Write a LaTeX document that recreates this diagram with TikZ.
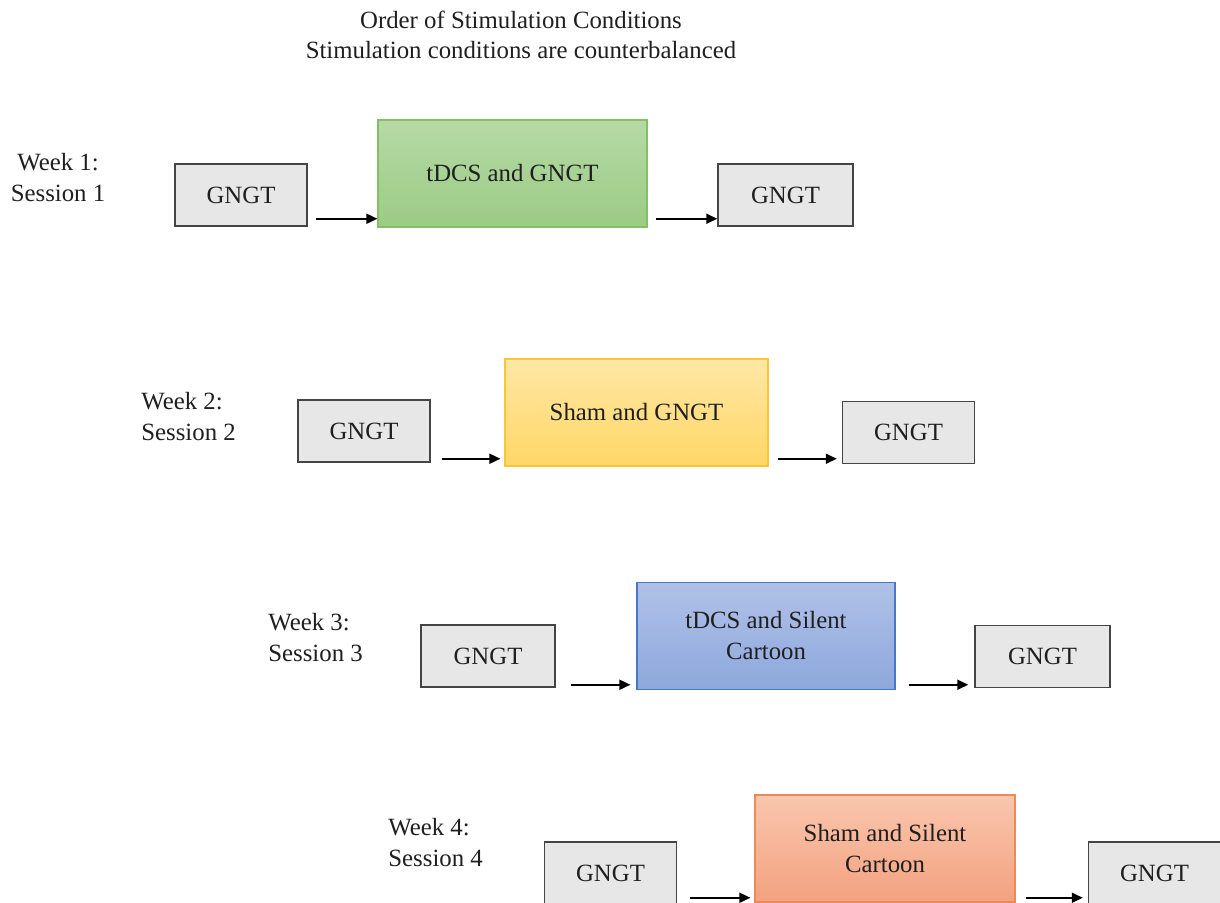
\documentclass[tikz,border=0pt]{standalone}
\usepackage{fontspec}
\setmainfont{Liberation Serif}
\usetikzlibrary{arrows.meta,calc}
\definecolor{gfill}{HTML}{E7E7E7}
\definecolor{gdraw}{HTML}{454545}
\definecolor{grD}{HTML}{82C066}
\definecolor{grT}{HTML}{B6DAA6}
\definecolor{grB}{HTML}{9BCB84}
\definecolor{yeD}{HTML}{FFC533}
\definecolor{yeT}{HTML}{FFE7A6}
\definecolor{yeB}{HTML}{FFD766}
\definecolor{blD}{HTML}{4A76C6}
\definecolor{blT}{HTML}{AFC1E8}
\definecolor{blB}{HTML}{8EA8DC}
\definecolor{orD}{HTML}{EE8A55}
\definecolor{orT}{HTML}{F9C6AE}
\definecolor{orB}{HTML}{F3A27F}
\tikzset{
  txt/.style={font=\fontsize{12.4}{15.5}\selectfont, text=black!88},
  gbox/.style={txt, draw=gdraw, line width=0.75pt, fill=gfill, minimum width=66pt, minimum height=31pt, inner sep=0pt},
  cbox/.style={txt, line width=0.6pt, minimum width=#1, minimum height=53.5pt, inner sep=0pt, align=center},
  greenbox/.style={cbox=134.5pt, draw=grD, top color=grT, bottom color=grB},
  yellowbox/.style={cbox=131.5pt, draw=yeD, top color=yeT, bottom color=yeB},
  bluebox/.style={cbox=129pt, draw=blD, top color=blT, bottom color=blB},
  orangebox/.style={cbox=130pt, draw=orD, top color=orT, bottom color=orB},
  lab/.style={txt, inner sep=0pt},
  arr/.style={line width=0.9pt, -{Triangle[length=5.5pt,width=5pt]}}
}
\begin{document}
\begin{tikzpicture}[x=0.5pt,y=-0.5pt]
\useasboundingbox (0,0) rectangle (1220,903);
\clip (0,0) rectangle (1220,903);
% title
\node[lab] (title1) at (521,20) {Order of Stimulation Conditions};
\node[lab] (title2) at (521,50) {Stimulation conditions are counterbalanced};
% row 1
\node[lab, align=center] (w1) at (58,178) {Week 1:\\Session 1};
\node[gbox] (g1) at (241,195) {GNGT};
\node[greenbox] (t1) at (512.5,173.5) {tDCS and GNGT};
\node[gbox, minimum width=67.5pt] (r1) at (785.5,195) {GNGT};
\draw[arr] ([shift={(8,-8)}]g1.south east) coordinate (a1) -- (a1 -| t1.west);
\draw[arr] ($(a1 -| t1.east)+(8,0)$) -- (a1 -| r1.west);
% row 2
\node[lab, align=left, anchor=west] (w2) at (141,417) {Week 2:\\Session 2};
\node[gbox] (g2) at (364,431) {GNGT};
\node[yellowbox] (y2) at (636.5,412.5) {Sham and GNGT};
\node[gbox] (r2) at (908.5,432.5) {GNGT};
\draw[arr] ([shift={(11,-4)}]g2.south east) coordinate (a2) -- ($(a2 -| y2.west)+(-4,0)$);
\draw[arr] ($(a2 -| y2.east)+(9,0)$) -- ($(a2 -| r2.west)+(-5,0)$);
% row 3
\node[lab, align=left, anchor=west] (w3) at (268,638) {Week 3:\\Session 3};
\node[gbox, minimum width=67pt] (g3) at (488,656) {GNGT};
\node[bluebox] (b3) at (766,636) {tDCS and Silent\\Cartoon};
\node[gbox, minimum width=67.5pt] (r3) at (1042.5,656.5) {GNGT};
\draw[arr] ([shift={(15,-3)}]g3.south east) coordinate (a3) -- ($(a3 -| b3.west)+(-6,0)$);
\draw[arr] ($(a3 -| b3.east)+(13,0)$) -- ($(a3 -| r3.west)+(-6,0)$);
% row 4
\node[lab, align=left, anchor=west] (w4) at (388,843) {Week 4:\\Session 4};
\node[gbox] (g4) at (610.5,873) {GNGT};
\node[orangebox] (o4) at (885,848.5) {Sham and Silent\\Cartoon};
\node[gbox] (r4) at (1154.5,873) {GNGT};
\draw[arr] ([shift={(13,-7)}]g4.south east) coordinate (a4) -- ($(a4 -| o4.west)+(-4,0)$);
\draw[arr] ($(a4 -| o4.east)+(10,0)$) -- ($(a4 -| r4.west)+(-5,0)$);
\end{tikzpicture}
\end{document}
